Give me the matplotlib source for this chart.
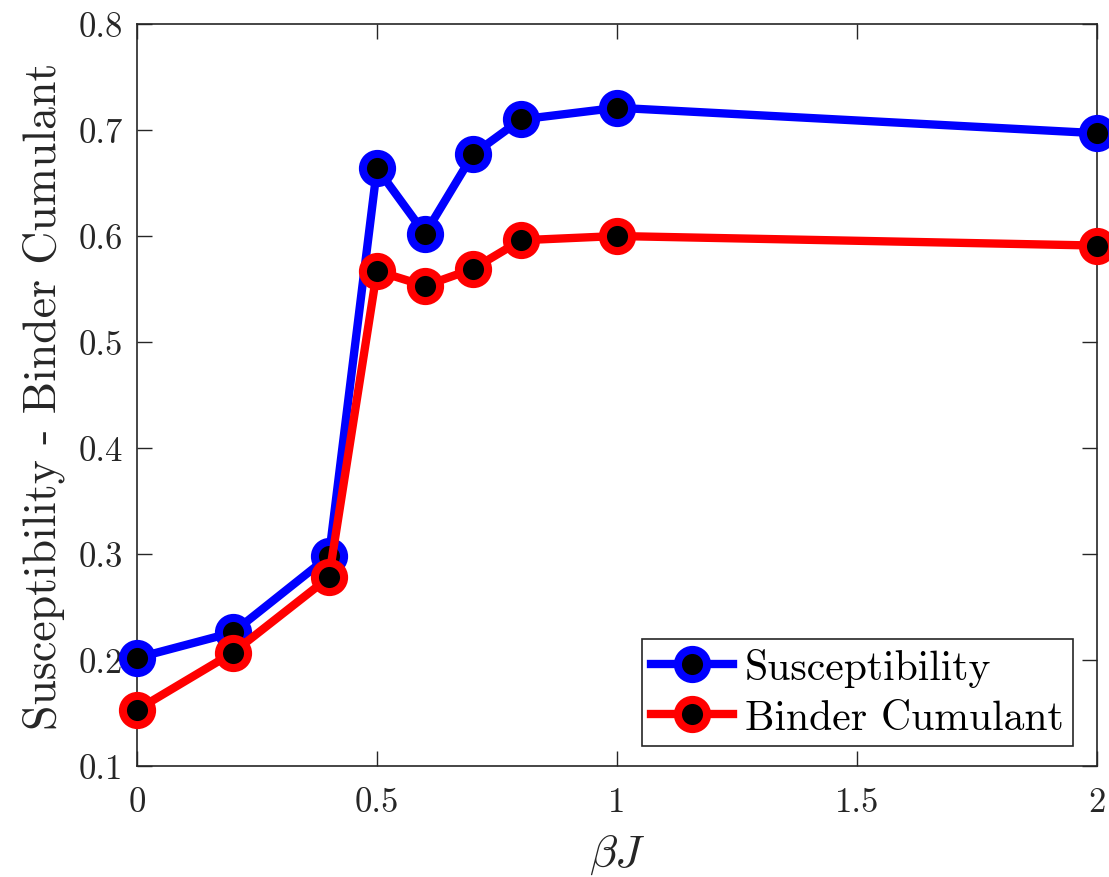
import matplotlib
matplotlib.use("Agg")
import matplotlib.pyplot as plt

# beta*J values and the two measured curves
beta_j = [0.0, 0.2, 0.4, 0.5, 0.6, 0.7, 0.8, 1.0, 2.0]
susceptibility = [0.202, 0.226, 0.298, 0.664, 0.602, 0.677, 0.710, 0.721, 0.697]
binder_cumulant = [0.153, 0.207, 0.278, 0.567, 0.553, 0.569, 0.596, 0.600, 0.591]

x_ticks = [0, 0.5, 1, 1.5, 2]
x_tick_labels = ["0", "0.5", "1", "1.5", "2"]
y_ticks = [0.1, 0.2, 0.3, 0.4, 0.5, 0.6, 0.7, 0.8]
y_tick_labels = ["0.1", "0.2", "0.3", "0.4", "0.5", "0.6", "0.7", "0.8"]

plt.rcParams["font.family"] = "serif"
plt.rcParams["font.serif"] = ["cmr10"]
plt.rcParams["mathtext.fontset"] = "cm"
plt.rcParams["axes.formatter.use_mathtext"] = True

axis_color = "#262626"

fig = plt.figure(figsize=(11.09, 8.78), dpi=100)
ax = fig.add_axes([0.1235, 0.1264, 0.8657, 0.8451])

style = dict(marker="o", markersize=21, markeredgewidth=5.8,
             markerfacecolor="black", linewidth=6.0, clip_on=False)
ax.plot(beta_j, susceptibility, color="blue", markeredgecolor="blue",
        label="Susceptibility", zorder=3, **style)
ax.plot(beta_j, binder_cumulant, color="red", markeredgecolor="red",
        label="Binder Cumulant", zorder=4, **style)

ax.set_xlim(0, 2)
ax.set_ylim(0.1, 0.8)
ax.set_xticks(x_ticks)
ax.set_xticklabels(x_tick_labels)
ax.set_yticks(y_ticks)
ax.set_yticklabels(y_tick_labels)

ax.tick_params(direction="in", length=11, width=1.0, top=True, right=True,
               labelsize=25, colors=axis_color, labelcolor=axis_color)
ax.tick_params(axis="x", pad=15)
ax.tick_params(axis="y", pad=10)
for spine in ax.spines.values():
    spine.set_color(axis_color)
    spine.set_linewidth(1.2)

ax.set_xlabel(r"$\beta J$", fontsize=33, color=axis_color, labelpad=10)
ax.set_ylabel("Susceptibility - Binder Cumulant", fontsize=33,
              color=axis_color, labelpad=10)

leg = ax.legend(loc="lower right", bbox_to_anchor=(0.975, 0.027),
                fontsize=30, frameon=True, fancybox=False,
                handlelength=1.95, borderpad=0.22, labelspacing=0.3,
                handletextpad=0.3, borderaxespad=0.0)
leg.get_frame().set_edgecolor(axis_color)
leg.get_frame().set_linewidth(1.2)
leg.get_frame().set_alpha(1.0)

fig.savefig("out.png", dpi=100)
